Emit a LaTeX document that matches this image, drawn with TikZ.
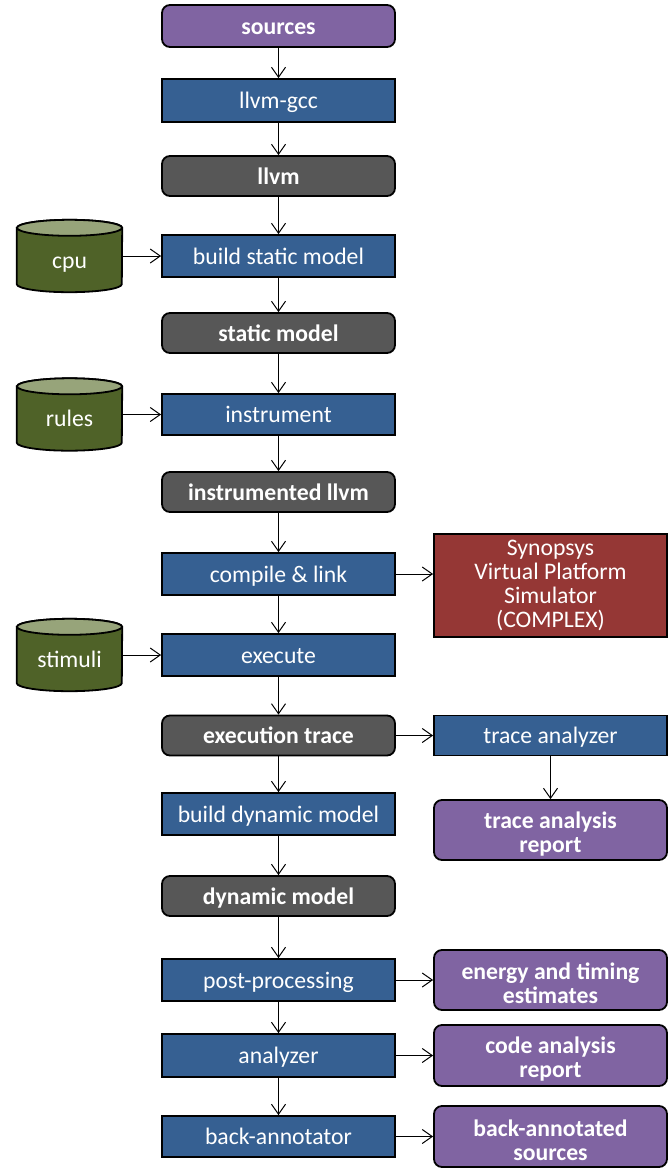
\documentclass[tikz,border=0pt]{standalone}
\usepackage{fontspec}
\setmainfont{Carlito}
\usetikzlibrary{arrows.meta}
\definecolor{cpurple}{HTML}{8064A2}
\definecolor{cblue}{HTML}{366092}
\definecolor{cgray}{HTML}{575757}
\definecolor{cred}{HTML}{953735}
\definecolor{cgreen}{HTML}{4F6228}
\definecolor{cgreentop}{HTML}{97A47A}
\tikzset{
  base/.style={draw=black, line width=1.8pt, text=white, minimum width=233pt, align=center,
    inner sep=0pt, font=\fontsize{23.7pt}{24pt}\selectfont},
  oneline/.style={text height=20pt, text depth=4pt},
  proc/.style={base, oneline, fill=cblue, minimum height=42pt},
  data/.style={base, oneline, fill=cgray, rounded corners=8pt, minimum height=40pt,
    font=\fontsize{23.7pt}{24pt}\selectfont\bfseries},
  result/.style={base, fill=cpurple, rounded corners=8pt, minimum height=60pt,
    font=\fontsize{23.7pt}{24pt}\selectfont\bfseries},
  tworow/.style={text height=48pt},
  simbox/.style={base, fill=cred, minimum height=103pt},
  dbtext/.style={text=white, minimum width=105pt, minimum height=72pt, inner sep=0pt,
    text height=24pt, text depth=0pt, font=\fontsize{23.7pt}{24pt}\selectfont},
  conn/.style={line width=1pt, -{Straight Barb[length=10pt,width=14pt,line width=1pt]}},
}
\newcommand{\dbcyl}[1]{%
  \path[fill=cgreen, draw=black, line width=1.8pt]
    ([yshift=-8pt]#1.north west) -- ([yshift=8pt]#1.south west)
    arc[start angle=180, end angle=360, x radius=52.5pt, y radius=8pt]
    -- ([yshift=-8pt]#1.north east)
    arc[start angle=0, end angle=180, x radius=52.5pt, y radius=8pt] -- cycle;
  \path[fill=cgreentop, draw=black, line width=1.8pt]
    ([yshift=-8pt]#1.north) ellipse[x radius=52.5pt, y radius=8pt];
}
\begin{document}
\begin{tikzpicture}[x=1pt, y=-1pt]
\useasboundingbox (0,0) rectangle (669,1168);
% main column
\node[result, oneline, minimum height=42pt] (src) at (278.5,26) {sources};
\node[proc, minimum height=43pt] (gcc) at (278.5,100.5) {llvm-gcc};
\node[data] (llvm) at (278.5,176) {llvm};
\node[proc] (bsm) at (278.5,256) {build static model};
\node[data] (sm) at (278.5,333) {static model};
\node[proc, minimum height=41pt] (ins) at (278.5,414.5) {instrument};
\node[data] (illvm) at (278.5,492) {instrumented llvm};
\node[proc] (cl) at (278.5,574) {compile \& link};
\node[proc] (exe) at (278.5,655) {execute};
\node[data] (et) at (278.5,735.5) {execution trace};
\node[proc] (bdm) at (278.5,814) {build dynamic model};
\node[data] (dm) at (278.5,896) {dynamic model};
\node[proc] (pp) at (278.5,980) {post-processing};
\node[proc, minimum height=43pt] (an) at (278.5,1055.5) {analyzer};
\node[proc, minimum height=41pt] (ba) at (278.5,1136.5) {back-annotator};
% right column
\node[simbox] (sim) at (550.5,585.5) {Synopsys\\Virtual Platform\\Simulator\\(COMPLEX)};
\node[proc, minimum height=40pt] (ta) at (550.5,735.5) {trace analyzer};
\node[result, tworow] (tar) at (550.5,830) {trace analysis\\report};
\node[result, tworow] (ete) at (550.5,980) {energy and timing\\estimates};
\node[result, tworow, minimum height=61pt] (car) at (550.5,1055.5) {code analysis\\report};
\node[result, tworow, minimum height=61pt] (bas) at (550.5,1136.5) {back-annotated\\sources};
% cylinders
\node[dbtext] (cpu) at (69.5,256) {};
\dbcyl{cpu}
\node[dbtext] at (cpu) {cpu};
\node[dbtext] (rules) at (69.5,414.5) {};
\dbcyl{rules}
\node[dbtext] at (rules) {rules};
\node[dbtext] (stim) at (69.5,655) {};
\dbcyl{stim}
\node[dbtext] at (stim) {stimuli};
% connectors
\draw[conn] (src) -- (gcc);
\draw[conn] (gcc) -- (llvm);
\draw[conn] (llvm) -- (bsm);
\draw[conn] (bsm) -- (sm);
\draw[conn] (sm) -- (ins);
\draw[conn] (ins) -- (illvm);
\draw[conn] (illvm) -- (cl);
\draw[conn] (cl) -- (exe);
\draw[conn] (exe) -- (et);
\draw[conn] (et) -- (bdm);
\draw[conn] (bdm) -- (dm);
\draw[conn] (dm) -- (pp);
\draw[conn] (pp) -- (an);
\draw[conn] (an) -- (ba);
\draw[conn] (cpu.east) -- (bsm.west);
\draw[conn] (rules.east) -- (ins.west);
\draw[conn] (stim.east) -- (exe.west);
\draw[conn] (cl.east) -- (cl.east -| sim.west);
\draw[conn] (et) -- (ta);
\draw[conn] (ta) -- (tar);
\draw[conn] (pp) -- (ete);
\draw[conn] (an) -- (car);
\draw[conn] (ba) -- (bas);
\end{tikzpicture}
\end{document}
